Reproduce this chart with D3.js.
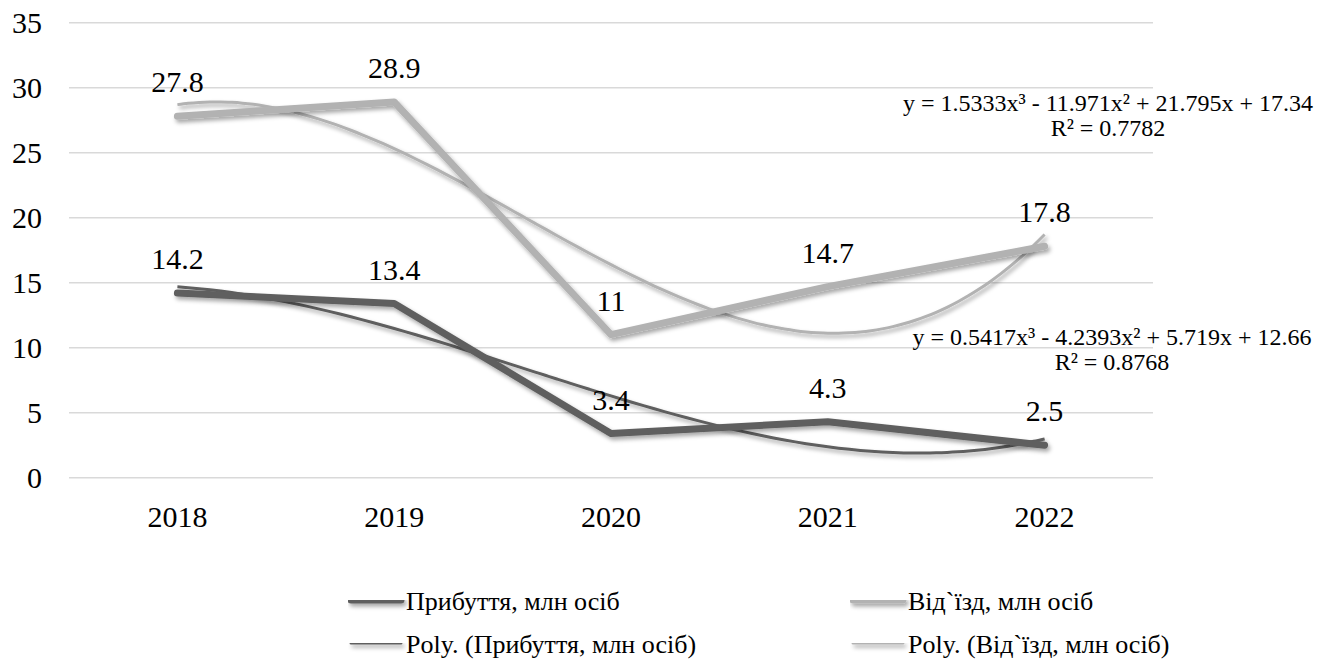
<!DOCTYPE html>
<html>
<head>
<meta charset="utf-8">
<script src="https://cdn.jsdelivr.net/npm/d3@7"></script>
<style>
  body { margin: 0; background: #fff; }
  svg text { font-family: 'Liberation Serif', 'Tinos', 'Times New Roman', 'DejaVu Serif', serif; fill: #000; }
</style>
</head>
<body>
<div id="chart"></div>
<script>
// Data
const years = ["2018", "2019", "2020", "2021", "2022"];
const arrivals = [14.2, 13.4, 3.4, 4.3, 2.5];
const departures = [27.8, 28.9, 11, 14.7, 17.8];
const yTicks = [0, 5, 10, 15, 20, 25, 30, 35];

// Trendline coefficients (cubic, x = 1..5) as printed on the chart
const arrivalsTrend = [0.5417, -4.2393, 5.719, 12.66];
const departuresTrend = [1.5333, -11.971, 21.795, 17.34];
const arrivalsEq = ["y = 0.5417x³ - 4.2393x² + 5.719x + 12.66", "R² = 0.8768"];
const departuresEq = ["y = 1.5333x³ - 11.971x² + 21.795x + 17.34", "R² = 0.7782"];

const legendLabels = ["Прибуття, млн осіб", "Від`їзд, млн осіб",
  "Poly. (Прибуття, млн осіб)", "Poly. (Від`їзд, млн осіб)"];

const W = 1333, H = 662;
const plot = { left: 69, right: 1153, top: 22.7, bottom: 477.7 };
const darkGray = "#5f5f5f", lightGray = "#b2b2b2";
const serif = "'Liberation Serif', 'Tinos', 'Times New Roman', 'DejaVu Serif', serif";

const svg = d3.select("#chart").append("svg")
    .attr("width", W)
    .attr("height", H);

// drop shadow like the office chart lines (user space so flat lines keep it)
const defs = svg.append("defs");
const f = defs.append("filter").attr("id", "shadow")
    .attr("filterUnits", "userSpaceOnUse")
    .attr("x", 0).attr("y", 0).attr("width", W).attr("height", H);
f.append("feDropShadow")
    .attr("dx", 2).attr("dy", 3).attr("stdDeviation", 2)
    .attr("flood-color", "#000").attr("flood-opacity", 0.35);

const x = d3.scaleBand().domain(years).range([plot.left, plot.right]);
const y = d3.scaleLinear().domain([0, 35]).range([plot.bottom, plot.top]);
const cx = d => x(d) + x.bandwidth() / 2;

// x for the trend (1..5) mapped onto band centres
const xt = d3.scaleLinear().domain([1, years.length]).range([cx(years[0]), cx(years[years.length - 1])]);

// gridlines
svg.append("g")
    .selectAll("line")
    .data(yTicks)
    .enter().append("line")
    .attr("x1", plot.left).attr("x2", plot.right)
    .attr("y1", d => y(d)).attr("y2", d => y(d))
    .attr("stroke", "#d9d9d9").attr("stroke-width", 1.5);

// y axis labels
const yAxis = d3.axisLeft(y).tickValues(yTicks).tickSize(0).tickPadding(0);
svg.append("g")
    .attr("transform", "translate(42,0)")
    .call(yAxis)
    .attr("font-family", serif)
    .call(g => g.select(".domain").remove())
    .selectAll("text")
    .attr("font-family", serif)
    .style("font-size", "30px")
    .attr("fill", "#000");

// x axis labels
const xAxis = d3.axisBottom(x).tickSize(0).tickPadding(0);
svg.append("g")
    .attr("transform", "translate(0,503)")
    .call(xAxis)
    .attr("font-family", serif)
    .call(g => g.select(".domain").remove())
    .selectAll("text")
    .attr("font-family", serif)
    .style("font-size", "30px")
    .attr("dy", "0.8em")
    .attr("fill", "#000");

// trendlines
function poly(c, t) { return c[0] * t * t * t + c[1] * t * t + c[2] * t + c[3]; }
const steps = d3.range(1, 5.0001, 0.05);
const trendLine = d3.line().x(d => xt(d[0])).y(d => y(d[1])).curve(d3.curveMonotoneX);

svg.append("path")
    .datum(steps.map(t => [t, poly(departuresTrend, t)]))
    .attr("d", trendLine)
    .attr("fill", "none").attr("stroke", lightGray).attr("stroke-width", 3)
    .attr("filter", "url(#shadow)");
svg.append("path")
    .datum(steps.map(t => [t, poly(arrivalsTrend, t)]))
    .attr("d", trendLine)
    .attr("fill", "none").attr("stroke", darkGray).attr("stroke-width", 3)
    .attr("filter", "url(#shadow)");

// main series
const line = d3.line().x((d, i) => cx(years[i])).y(d => y(d));
svg.append("path")
    .datum(departures)
    .attr("d", line)
    .attr("fill", "none").attr("stroke", lightGray).attr("stroke-width", 7)
    .attr("stroke-linecap", "round").attr("stroke-linejoin", "round")
    .attr("filter", "url(#shadow)");
svg.append("path")
    .datum(arrivals)
    .attr("d", line)
    .attr("fill", "none").attr("stroke", darkGray).attr("stroke-width", 7)
    .attr("stroke-linecap", "round").attr("stroke-linejoin", "round")
    .attr("filter", "url(#shadow)");

// data labels
function addLabels(vals) {
    svg.append("g")
        .selectAll("text")
        .data(vals)
        .enter().append("text")
        .attr("x", (d, i) => cx(years[i]))
        .attr("y", d => y(d) - 24)
        .attr("text-anchor", "middle")
        .attr("font-family", serif)
        .style("font-size", "30px")
        .text(d => d);
}
addLabels(departures);
addLabels(arrivals);

// trendline equations
function addEq(lines, xc, y0) {
    svg.append("g")
        .selectAll("text")
        .data(lines)
        .enter().append("text")
        .attr("x", xc)
        .attr("y", (d, i) => y0 + i * 25)
        .attr("text-anchor", "middle")
        .attr("font-family", serif)
        .style("font-size", "24px")
        .text(d => d);
}
addEq(departuresEq, 1108, 111);
addEq(arrivalsEq, 1112, 345);

// legend
const legendItems = [
    { x: 348, y: 600, color: darkGray, w: 7, label: legendLabels[0] },
    { x: 850, y: 600, color: lightGray, w: 7, label: legendLabels[1] },
    { x: 348, y: 643, color: darkGray, w: 3, label: legendLabels[2] },
    { x: 850, y: 643, color: lightGray, w: 3, label: legendLabels[3] }
];
const lg = svg.append("g").selectAll("g")
    .data(legendItems)
    .enter().append("g")
    .attr("transform", d => "translate(" + d.x + "," + d.y + ")");
lg.append("line")
    .attr("x1", 3).attr("x2", 53)
    .attr("stroke", d => d.color)
    .attr("stroke-width", d => d.w)
    .attr("stroke-linecap", "round")
    .attr("filter", "url(#shadow)");
lg.append("text")
    .attr("x", 58)
    .attr("y", 10)
    .attr("font-family", serif)
    .style("font-size", "26px")
    .text(d => d.label);
</script>
</body>
</html>
